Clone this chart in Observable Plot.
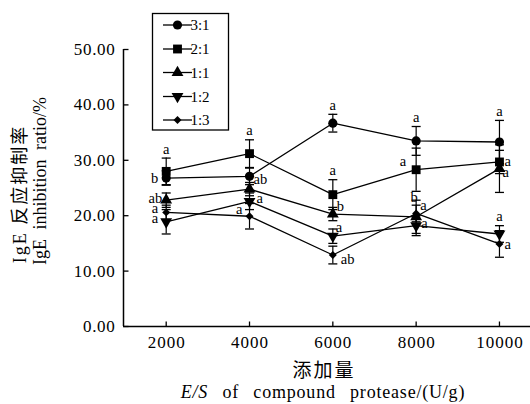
<!DOCTYPE html>
<html>
<head>
<meta charset="utf-8">
<script src="https://cdn.jsdelivr.net/npm/d3@7"></script>
<script src="https://cdn.jsdelivr.net/npm/@observablehq/plot@0.6"></script>
<style>
  html, body { margin: 0; padding: 0; background: #fff; }
  #chart { position: relative; width: 530px; height: 404px; }
  #chart svg, #chart svg text { font-family: "Liberation Serif", "Times New Roman", Times, "DejaVu Serif", "Noto Sans CJK SC", serif !important; }
</style>
</head>
<body>
<div id="chart"></div>
<script>
// ---------- data ----------
const ratios = ["3:1", "2:1", "1:1", "1:2", "1:3"];
const doses = [2000, 4000, 6000, 8000, 10000];
const yTicks = [0, 10, 20, 30, 40, 50];
const xTicks = [2000, 4000, 6000, 8000, 10000];

const mean31 = [26.8, 27.1, 36.7, 33.5, 33.3];
const sd31   = [1.3, 1.5, 1.6, 2.6, 3.9];
const sig31  = ["b", "ab", "a", "a", "a"];

const mean21 = [28.0, 31.2, 23.8, 28.3, 29.7];
const sd21   = [2.4, 2.5, 2.7, 3.9, 2.1];
const sig21  = ["a", "a", "a", "a", "a"];

const mean11 = [22.8, 24.8, 20.3, 19.8, 28.5];
const sd11   = [1.3, 1.2, 1.2, 3.0, 4.3];
const sig11  = ["ab", "", "b", "b", "a"];

const mean12 = [18.9, 22.6, 16.3, 18.2, 16.7];
const sd12   = [2.2, 1.5, 1.3, 1.8, 1.5];
const sig12  = ["a", "a", "a", "a", "a"];

const mean13 = [20.6, 19.9, 12.9, 20.4, 14.9];
const sd13   = [1.3, 2.3, 1.6, 1.5, 2.4];
const sig13  = ["a", "a", "ab", "a", "a"];

// ---------- layout (label placement, not data) ----------
// "A" = above the error bar; otherwise [dx, dy, anchor]
const labelPos = {
  "3:1": [[-8, 0, "end"], [4, 3, "start"], "A", "A", "A"],
  "2:1": ["A", "A", "A", [-10, -8, "end"], [5, -1, "start"]],
  "1:1": [[-4, -2, "end"], null, [4, -8, "start"], [-2, -19, "middle"], [3, 4, "start"]],
  "1:2": [[-8, -3, "end"], [7, -3, "start"], [3, -9, "start"], [5, -2, "start"], "A"],
  "1:3": [[-8, -4, "end"], [-7, -7, "end"], [8, 4, "start"], [4, -8, "start"], [5, 0, "start"]]
};

// ---------- symbols ----------
const sqrt3 = Math.sqrt(3);
const triDown = {
  draw(ctx, size) {
    const y = -Math.sqrt(size / (sqrt3 * 3));
    ctx.moveTo(0, -2 * y);
    ctx.lineTo(-sqrt3 * y, y);
    ctx.lineTo(sqrt3 * y, y);
    ctx.closePath();
  }
};
const capSym = { draw(ctx) { ctx.moveTo(-4.5, 0); ctx.lineTo(4.5, 0); } };
const tickRight = { draw(ctx) { ctx.moveTo(0, 0); ctx.lineTo(5, 0); } };
const tickUp = { draw(ctx) { ctx.moveTo(0, 0); ctx.lineTo(0, -5); } };

const seriesDefs = [
  {name: "3:1", mean: mean31, sd: sd31, sig: sig31, symbol: "circle", r: 4.6},
  {name: "2:1", mean: mean21, sd: sd21, sig: sig21, symbol: "square", r: 5},
  {name: "1:1", mean: mean11, sd: sd11, sig: sig11, symbol: "triangle", r: 4.4},
  {name: "1:2", mean: mean12, sd: sd12, sig: sig12, symbol: triDown, r: 4.4},
  {name: "1:3", mean: mean13, sd: sd13, sig: sig13, symbol: "diamond2", r: 3.6}
];

const rows = [];
for (const s of seriesDefs) {
  doses.forEach((d, i) => rows.push({series: s.name, x: d, y: s.mean[i], sd: s.sd[i], sig: s.sig[i], i}));
}

const FONT = "'Liberation Serif', 'Times New Roman', Times, 'DejaVu Serif', 'Noto Sans CJK SC', serif";
const marks = [];
// error bars
marks.push(Plot.ruleX(rows, {x: "x", y1: d => d.y - d.sd, y2: d => d.y + d.sd, stroke: "#000", strokeWidth: 1.2}));
marks.push(Plot.dot(rows, {x: "x", y: d => d.y - d.sd, symbol: capSym, stroke: "#000", strokeWidth: 1.3, fill: "none"}));
marks.push(Plot.dot(rows, {x: "x", y: d => d.y + d.sd, symbol: capSym, stroke: "#000", strokeWidth: 1.3, fill: "none"}));
// lines + markers
for (const s of seriesDefs) {
  const data = rows.filter(r => r.series === s.name);
  marks.push(Plot.line(data, {x: "x", y: "y", stroke: "#000", strokeWidth: 1.3}));
  marks.push(Plot.dot(data, {x: "x", y: "y", symbol: s.symbol, r: s.r, fill: "#000", stroke: "none"}));
}
// significance letters
for (const r of rows) {
  if (!r.sig) continue;
  const p = labelPos[r.series][r.i];
  if (!p) continue;
  if (p === "A") {
    marks.push(Plot.text([r], {x: "x", y: d => d.y + d.sd, text: "sig", dy: -9, textAnchor: "middle", fontSize: 14.5, fontFamily: FONT, fill: "#000"}));
  } else {
    marks.push(Plot.text([r], {x: "x", y: "y", text: "sig", dx: p[0], dy: p[1], textAnchor: p[2], fontSize: 14.5, fontFamily: FONT, fill: "#000"}));
  }
}
// axes
marks.push(Plot.ruleX([975], {stroke: "#000", strokeWidth: 1.5}));
marks.push(Plot.ruleY([0], {stroke: "#000", strokeWidth: 1.5}));
marks.push(Plot.dot(yTicks, {y: d => d, frameAnchor: "left", symbol: tickRight, stroke: "#000", strokeWidth: 1.3}));
marks.push(Plot.dot(xTicks, {x: d => d, frameAnchor: "bottom", symbol: tickUp, stroke: "#000", strokeWidth: 1.3}));
marks.push(Plot.axisY(yTicks, {tickSize: 0, tickPadding: 8, tickFormat: d3.format(".2f"), fontSize: 17, fontFamily: FONT, label: null}));
marks.push(Plot.axisX(xTicks, {tickSize: 0, tickPadding: 9, tickFormat: d => String(d), fontSize: 17, fontFamily: FONT, label: null}));

const plot = Plot.plot({
  width: 530,
  height: 404,
  marginLeft: 123,
  marginRight: 0,
  marginTop: 49,
  marginBottom: 78,
  x: {domain: [975, 10745]},
  y: {domain: [0, 50]},
  style: {fontFamily: FONT, color: "#000", background: "#fff"},
  marks
});
document.getElementById("chart").appendChild(plot);

const svg = d3.select(plot);
// widen tick label glyph spacing to match the reference typeface
svg.selectAll('[aria-label="y-axis tick label"] text').attr("letter-spacing", 0.7);
svg.selectAll('[aria-label="x-axis tick label"] text').attr("letter-spacing", 1).attr("dx", 0.5);

// ---------- titles and legend ----------
const g = svg.append("g").attr("fill", "#000").attr("font-family", FONT);
// y title (two lines, rotated)
g.append("text").attr("transform", "translate(20,194) rotate(-90)")
  .attr("text-anchor", "middle").attr("dy", "0.35em").attr("font-size", 18)
  .attr("letter-spacing", 2).text("IgE 反应抑制率");
g.append("text").attr("transform", "translate(40,181) rotate(-90)")
  .attr("text-anchor", "middle").attr("dy", "0.35em").attr("font-size", 18)
  .attr("word-spacing", 5).text("IgE inhibition ratio/%");
// x title (two lines)
g.append("text").attr("x", 324).attr("y", 370).attr("text-anchor", "middle")
  .attr("dy", "0.35em").attr("font-size", 19).attr("letter-spacing", 2).text("添加量");
const t2 = g.append("text").attr("x", 323).attr("y", 392).attr("text-anchor", "middle")
  .attr("dy", "0.35em").attr("font-size", 18).attr("letter-spacing", 0.8).attr("word-spacing", 9);
t2.append("tspan").attr("font-style", "italic").text("E/S");
t2.append("tspan").text(" of compound protease/(U/g)");

// legend
const lg = svg.append("g").attr("font-family", FONT);
lg.append("rect").attr("x", 152.5).attr("y", 13.5).attr("width", 76).attr("height", 116.5)
  .attr("fill", "#fff").attr("stroke", "#000").attr("stroke-width", 1.3);
const legendY = [25, 49, 72.5, 96.5, 120];
const symFor = {circle: d3.symbolCircle, square: d3.symbolSquare, triangle: d3.symbolTriangle, diamond2: d3.symbolDiamond2};
seriesDefs.forEach((s, i) => {
  const y = legendY[i];
  lg.append("line").attr("x1", 163).attr("x2", 192).attr("y1", y).attr("y2", y)
    .attr("stroke", "#000").attr("stroke-width", 1.3);
  const sym = typeof s.symbol === "string" ? symFor[s.symbol] : s.symbol;
  lg.append("path").attr("transform", `translate(177.5,${y})`)
    .attr("d", d3.symbol(sym, Math.PI * s.r * s.r)()).attr("fill", "#000");
  lg.append("text").attr("x", 200).attr("y", y).attr("dy", "0.35em")
    .attr("font-size", 15).attr("fill", "#000").text(s.name);
});
</script>
</body>
</html>
